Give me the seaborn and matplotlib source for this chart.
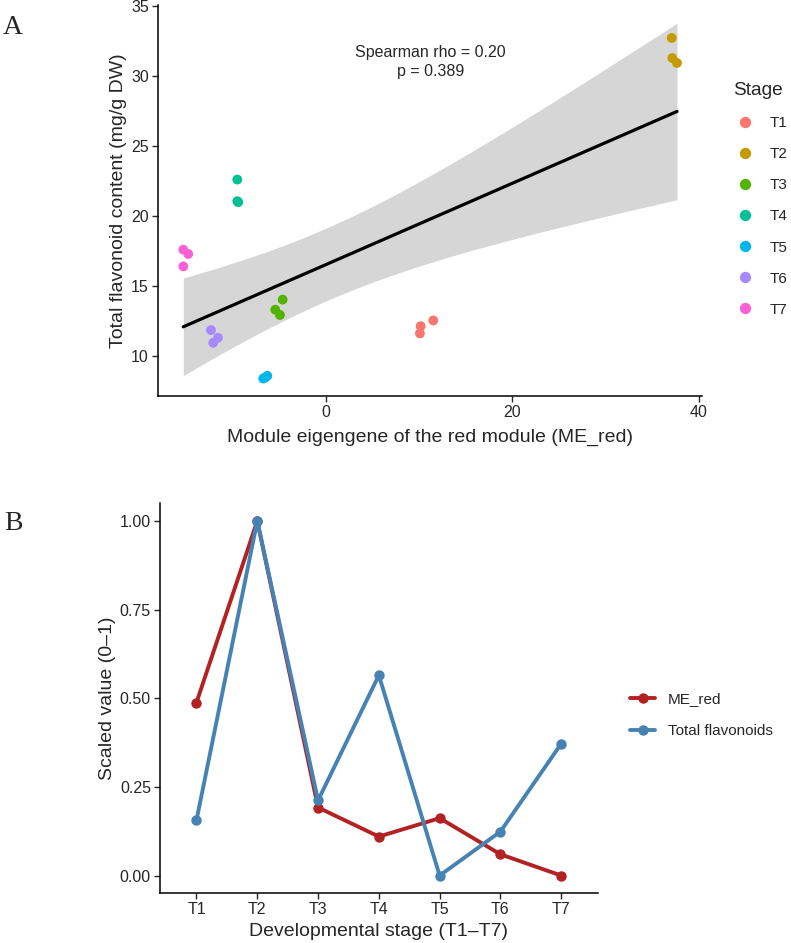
import numpy as np
import pandas as pd
import matplotlib
matplotlib.use("Agg")
import matplotlib.pyplot as plt
import seaborn as sns

# panel A: per-sample values
stage = ["T1"] * 3 + ["T2"] * 3 + ["T3"] * 3 + ["T4"] * 3 + ["T5"] * 3 + ["T6"] * 3 + ["T7"] * 3
me_red = [11.53, 10.18, 10.10,
          37.08, 37.15, 37.65,
          -4.61, -5.40, -4.90,
          -9.47, -9.47, -9.37,
          -6.69, -6.26, -6.50,
          -12.29, -11.54, -12.05,
          -15.26, -14.73, -15.26]
flavonoid = [12.51, 12.10, 11.58,
             32.74, 31.30, 30.95,
             14.00, 13.28, 12.90,
             22.60, 21.05, 20.98,
             8.35, 8.54, 8.42,
             11.82, 11.27, 10.91,
             17.58, 17.27, 16.38]
stage_levels = ["T1", "T2", "T3", "T4", "T5", "T6", "T7"]
stage_colors = ["#F8766D", "#C49A00", "#53B400", "#00C094", "#00B6EB", "#A58AFF", "#FB61D7"]

# panel B: scaled means per stage
me_red_scaled = [0.488, 1.00, 0.192, 0.110, 0.162, 0.060, 0.00]
flav_scaled = [0.156, 1.00, 0.212, 0.565, 0.00, 0.124, 0.372]
series_names = ["ME_red", "Total flavonoids"]
series_colors = ["#B22222", "#4682B4"]

sns.set_style("ticks")
plt.rcParams["font.family"] = ["Liberation Sans", "DejaVu Sans"]

W, H = 791, 943
fig = plt.figure(figsize=(W / 100, H / 100), dpi=100)

tick_col = "#262626"


def style_axes(ax):
    sns.despine(ax=ax)
    for s in ["left", "bottom"]:
        ax.spines[s].set_linewidth(1.1)
        ax.spines[s].set_color("black")
    ax.tick_params(axis="both", length=4, width=1.0, color=tick_col,
                   labelsize=11.5, labelcolor=tick_col, pad=2.5)


# ---------- panel A ----------
axA = fig.add_axes([158 / W, 1 - 396 / H, (702 - 158) / W, (396 - 5) / H])
dfA = pd.DataFrame({"ME_red": me_red, "Flavonoid": flavonoid, "Stage": stage})

# 95% confidence band of the linear fit (t quantile for 19 df)
x = dfA["ME_red"].to_numpy()
y = dfA["Flavonoid"].to_numpy()
n = len(x)
b, a = np.polyfit(x, y, 1)
resid = y - (a + b * x)
s_err = np.sqrt(np.sum(resid ** 2) / (n - 2))
xg = np.linspace(x.min(), x.max(), 100)
se = s_err * np.sqrt(1 / n + (xg - x.mean()) ** 2 / np.sum((x - x.mean()) ** 2))
t_q = 2.093
axA.fill_between(xg, a + b * xg - t_q * se, a + b * xg + t_q * se,
                 color="#d6d6d6", linewidth=0, zorder=1)
sns.regplot(data=dfA, x="ME_red", y="Flavonoid", scatter=False, ci=None,
            color="black", line_kws={"linewidth": 2.3, "zorder": 2}, ax=axA)
sns.scatterplot(data=dfA, x="ME_red", y="Flavonoid", hue="Stage", hue_order=stage_levels,
                palette=stage_colors, s=50, linewidth=0, ax=axA, zorder=3)
axA.set_xlim(-17.97, 40.33)
axA.set_ylim(7.1, 35.1)
axA.set_xticks([0, 20, 40])
axA.set_yticks([10, 15, 20, 25, 30, 35])
axA.set_xlabel("Module eigengene of the red module (ME_red)", fontsize=14, va="center")
axA.set_ylabel("Total flavonoid content (mg/g DW)", fontsize=14, va="center")
axA.xaxis.set_label_coords(0.5, -0.105)
axA.yaxis.set_label_coords(-0.0726, 0.5)
style_axes(axA)
axA.text(11.2, 31.0, "Spearman rho = 0.20\np = 0.389", ha="center", va="center",
         fontsize=11.5, linespacing=1.35)

handles, labels = axA.get_legend_handles_labels()
legA = axA.legend(handles, labels, title="Stage", loc="upper left",
                  bbox_to_anchor=(733 / W, 1 - 82 / H), bbox_transform=fig.transFigure,
                  frameon=False, fontsize=11, title_fontsize=13.8, alignment="left",
                  borderpad=0, borderaxespad=0, handlelength=1.6, handletextpad=0.8,
                  labelspacing=1.12, markerscale=1.15)

fig.text(13 / W, 1 - 28 / H, "A", family=["Liberation Serif", "DejaVu Serif"],
         fontsize=20, ha="center", va="center")

# ---------- panel B ----------
axB = fig.add_axes([160 / W, 1 - 893.3 / H, (597.7 - 160) / W, (893.3 - 503.3) / H])
dfB = pd.DataFrame({
    "Stage": stage_levels * 2,
    "Value": me_red_scaled + flav_scaled,
    "Series": [series_names[0]] * 7 + [series_names[1]] * 7,
})
sns.lineplot(data=dfB, x="Stage", y="Value", hue="Series", hue_order=series_names,
             palette=series_colors, marker="o", markersize=7.5, markeredgewidth=0,
             linewidth=2.8, sort=False, ax=axB)
axB.set_xlim(-0.6, 6.6)
axB.set_ylim(-0.05, 1.05)
axB.set_yticks([0, 0.25, 0.5, 0.75, 1.0])
axB.set_yticklabels(["0.00", "0.25", "0.50", "0.75", "1.00"])
axB.set_xlabel("Developmental stage (T1\u2013T7)", fontsize=14, va="center")
axB.set_ylabel("Scaled value (0\u20131)", fontsize=14, va="center")
axB.xaxis.set_label_coords(0.5, -0.097)
axB.yaxis.set_label_coords(-0.121, 0.5)
style_axes(axB)

handles, labels = axB.get_legend_handles_labels()
legB = axB.legend(handles, labels, loc="upper left",
                  bbox_to_anchor=(630 / W, 1 - 692 / H), bbox_transform=fig.transFigure,
                  frameon=False, fontsize=11, borderpad=0, borderaxespad=0,
                  handlelength=1.65, handletextpad=0.85, labelspacing=1.18)

fig.text(13 / W, 1 - 524 / H, "B", family=["Liberation Serif", "DejaVu Serif"],
         fontsize=20, ha="center", va="center")

fig.savefig("out.png", dpi=100)
